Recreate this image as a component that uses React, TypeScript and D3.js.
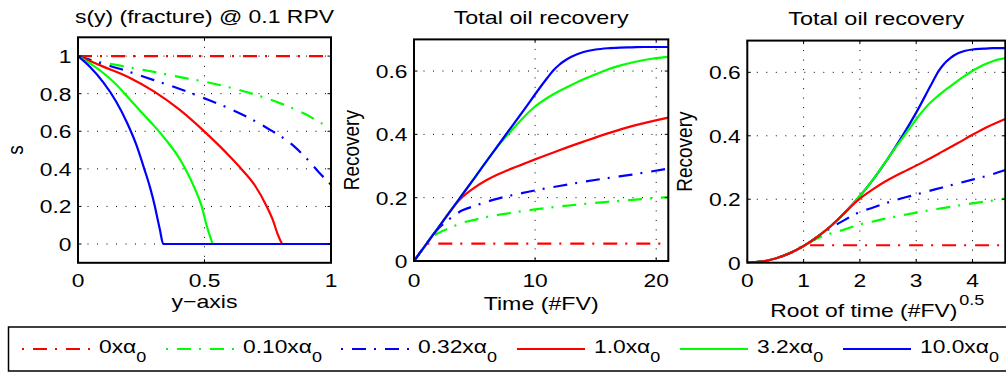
import React from "react";
import * as d3 from "d3";

// ---------- DATA ----------
// Panel 1: s(y) profiles in fracture at 0.1 RPV ([y, s])
const sAlpha0: [number, number][] = [[0, 1], [1, 1]];
const sAlpha010: [number, number][] = [[0, 1], [0.05, 0.98], [0.1, 0.966], [0.2, 0.941], [0.3, 0.916], [0.43, 0.881], [0.5, 0.864], [0.614, 0.828], [0.7, 0.795], [0.81, 0.743], [0.9, 0.69], [0.976, 0.633], [1, 0.618]];
const sAlpha032: [number, number][] = [[0, 1], [0.05, 0.978], [0.1, 0.958], [0.18, 0.926], [0.3, 0.872], [0.4, 0.826], [0.5, 0.775], [0.6, 0.72], [0.667, 0.677], [0.75, 0.615], [0.85, 0.525], [0.9, 0.46], [0.95, 0.385], [1, 0.315]];
const sAlpha10: [number, number][] = [[0, 1], [0.05, 0.972], [0.1, 0.944], [0.2, 0.888], [0.3, 0.812], [0.4, 0.716], [0.5, 0.598], [0.6, 0.466], [0.65, 0.393], [0.7, 0.31], [0.746, 0.2], [0.77, 0.128], [0.79, 0.05], [0.81, 0], [1, 0]];
const sAlpha32: [number, number][] = [[0, 1], [0.047, 0.961], [0.1, 0.91], [0.153, 0.846], [0.2, 0.777], [0.258, 0.69], [0.3, 0.63], [0.35, 0.55], [0.39, 0.478], [0.423, 0.403], [0.46, 0.3], [0.489, 0.2], [0.508, 0.101], [0.522, 0.04], [0.535, 0], [1, 0]];
const sAlpha100: [number, number][] = [[0, 1], [0.047, 0.943], [0.1, 0.86], [0.15, 0.76], [0.192, 0.651], [0.23, 0.53], [0.262, 0.4], [0.285, 0.3], [0.304, 0.2], [0.315, 0.13], [0.324, 0.074], [0.337, 0], [1, 0]];

// Panels 2 & 3: total oil recovery vs time (#FV) ([t, R])
const rAlpha0: [number, number][] = [[0, 0], [0.0625, 0.0033], [0.25, 0.0132], [0.5625, 0.0296], [1, 0.0526], [1.1, 0.055], [21, 0.055]];
const rAlpha010: [number, number][] = [[0, 0], [0.0625, 0.0033], [0.25, 0.0132], [0.5625, 0.0296], [1, 0.0526], [1.3, 0.067], [1.5, 0.075], [2, 0.088], [3, 0.105], [4, 0.121], [5, 0.13], [6, 0.139], [8, 0.152], [10, 0.163], [12, 0.172], [14, 0.18], [16, 0.187], [18, 0.193], [21, 0.202]];
const rAlpha032: [number, number][] = [[0, 0], [0.0625, 0.0033], [0.25, 0.0132], [0.5625, 0.0296], [1, 0.0526], [1.5625, 0.082], [1.8, 0.093], [2, 0.102], [2.5, 0.12], [3, 0.135], [4, 0.16], [5, 0.174], [6, 0.187], [7, 0.198], [8, 0.207], [9, 0.215], [10, 0.223], [12, 0.237], [14, 0.25], [16, 0.262], [18, 0.273], [21, 0.292]];
const rAlpha10: [number, number][] = [[0, 0], [0.0625, 0.0033], [0.25, 0.0132], [0.5625, 0.0296], [1, 0.0526], [1.5625, 0.0822], [2.25, 0.118], [3.0625, 0.161], [3.5, 0.182], [4, 0.202], [5, 0.232], [6, 0.256], [7, 0.275], [8, 0.291], [9, 0.306], [10, 0.321], [12, 0.35], [14, 0.377], [16, 0.403], [18, 0.426], [21, 0.453]];
const rAlpha32: [number, number][] = [[0, 0], [0.0625, 0.0033], [0.25, 0.0132], [0.5625, 0.0296], [1, 0.0526], [1.5625, 0.0822], [2.25, 0.118], [3.0625, 0.161], [4, 0.21], [5.0625, 0.266], [6.25, 0.329], [7, 0.366], [8, 0.41], [9, 0.452], [10, 0.488], [11, 0.515], [12, 0.537], [13, 0.556], [14, 0.574], [15, 0.59], [16, 0.605], [17, 0.617], [18, 0.627], [19, 0.635], [20, 0.641], [21, 0.645]];
const rAlpha100: [number, number][] = [[0, 0], [0.0625, 0.0033], [0.25, 0.0132], [0.5625, 0.0296], [1, 0.0526], [1.5625, 0.0822], [2.25, 0.118], [3.0625, 0.161], [4, 0.21], [5.0625, 0.266], [6.25, 0.329], [7.5625, 0.398], [9, 0.473], [10.5625, 0.556], [11, 0.578], [11.5, 0.602], [12, 0.62], [12.5, 0.634], [13, 0.645], [14, 0.66], [15, 0.668], [16, 0.672], [17, 0.674], [18, 0.675], [19, 0.676], [21, 0.676]];

const legendValues = ["0", "0.10", "0.32", "1.0", "3.2", "10.0"];
const seriesColors = ["#ff0000", "#00ff00", "#0000ff", "#ff0000", "#00ff00", "#0000ff"];
const seriesDashed = [true, true, true, false, false, false];

const p1XTicks = [0, 0.5, 1];
const p1XTickLabels = ["0", "0.5", "1"];
const p1YTicks = [0, 0.2, 0.4, 0.6, 0.8, 1];
const p1YTickLabels = ["0", "0.2", "0.4", "0.6", "0.8", "1"];
const p2XTicks = [0, 10, 20];
const p2XTickLabels = ["0", "10", "20"];
const p3XTicks = [0, 1, 2, 3, 4];
const p3XTickLabels = ["0", "1", "2", "3", "4"];
const recYTicks = [0, 0.2, 0.4, 0.6];
const recYTickLabels = ["0", "0.2", "0.4", "0.6"];

// ---------- STYLE / LAYOUT ----------
const FONT = '"Liberation Sans", Arial, Helvetica, sans-serif';
const SX = 1.2;
const DASHDOT = "14,8,2,9";
const GRID_DASH = "1,8.5";

type Pt = [number, number];
interface Series { data: Pt[]; color: string; dashed: boolean; }

function Txt(props: { x: number; y: number; anchor?: string; size?: number; rotate?: boolean; children: React.ReactNode }) {
  const { x, y, anchor = "start", size = 19, rotate = false, children } = props;
  const tf = rotate
    ? `translate(${x},${y}) rotate(-90) scale(1,${SX})`
    : `translate(${x},${y}) scale(${SX},1)`;
  return (
    <text transform={tf} textAnchor={anchor as any} fontSize={size} fontFamily={FONT} fill="#000">
      {children}
    </text>
  );
}

// Text stretched to a fixed width (centered)
function WTxt(props: { x: number; y: number; width: number; size?: number; children: React.ReactNode }) {
  const { x, y, width, size = 19, children } = props;
  return (
    <text x={x - width / 2} y={y} textLength={width} lengthAdjust="spacingAndGlyphs"
      fontSize={size} fontFamily={FONT} fill="#000">
      {children}
    </text>
  );
}

interface PanelProps {
  id: string;
  left: number; right: number; top: number; bottom: number;
  xDomain: [number, number]; yDomain: [number, number];
  xTicks: number[]; xTickLabels: string[];
  yTicks: number[]; yTickLabels: string[];
  title: string; titleY: number; titleW: number;
  xlabel: string; xlabelY: number; xlabelW: number;
  xlabelSup?: string;
  ylabel: string;
  series: Series[];
  xOf: (v: number) => number;
}

function Panel(p: PanelProps) {
  const x = d3.scaleLinear().domain(p.xDomain).range([p.left, p.right]);
  const y = d3.scaleLinear().domain(p.yDomain).range([p.bottom, p.top]);
  const line = d3.line<Pt>().x(d => x(p.xOf(d[0]))).y(d => y(d[1])).curve(d3.curveMonotoneX);
  const tl = 3.5;
  const cx = (p.left + p.right) / 2;
  const cy = (p.top + p.bottom) / 2;
  const supW = p.xlabelSup ? 25 : 0;
  const xlCenter = cx - supW / 2;
  return (
    <g>
      <defs>
        <clipPath id={p.id}>
          <rect x={p.left} y={p.top} width={p.right - p.left} height={p.bottom - p.top} />
        </clipPath>
      </defs>
      {p.xTicks.map((t, i) => (
        <line key={"gx" + i} x1={x(t)} x2={x(t)} y1={p.top} y2={p.bottom} stroke="#000" strokeWidth={1} strokeDasharray={GRID_DASH} />
      ))}
      {p.yTicks.map((t, i) => (
        <line key={"gy" + i} x1={p.left} x2={p.right} y1={y(t)} y2={y(t)} stroke="#000" strokeWidth={1} strokeDasharray={GRID_DASH} />
      ))}
      <g clipPath={`url(#${p.id})`}>
        {p.series.map((s, i) => (
          <path key={"s" + i} d={line(s.data) || ""} fill="none" stroke={s.color} strokeWidth={2.2}
            strokeDasharray={s.dashed ? DASHDOT : undefined} />
        ))}
      </g>
      {p.xTicks.map((t, i) => (
        <g key={"tx" + i}>
          <line x1={x(t)} x2={x(t)} y1={p.bottom} y2={p.bottom - tl} stroke="#000" strokeWidth={1} />
          <line x1={x(t)} x2={x(t)} y1={p.top} y2={p.top + tl} stroke="#000" strokeWidth={1} />
          <Txt x={x(t)} y={287} anchor="middle">{p.xTickLabels[i]}</Txt>
        </g>
      ))}
      {p.yTicks.map((t, i) => (
        <g key={"ty" + i}>
          <line x1={p.left} x2={p.left + tl} y1={y(t)} y2={y(t)} stroke="#000" strokeWidth={1} />
          <line x1={p.right} x2={p.right - tl} y1={y(t)} y2={y(t)} stroke="#000" strokeWidth={1} />
          <Txt x={p.left - 6.5} y={y(t) + 7} anchor="end">{p.yTickLabels[i]}</Txt>
        </g>
      ))}
      <rect x={p.left} y={p.top} width={p.right - p.left} height={p.bottom - p.top} fill="none" stroke="#000" strokeWidth={2} />
      <WTxt x={cx} y={p.titleY} width={p.titleW}>{p.title}</WTxt>
      <WTxt x={xlCenter} y={p.xlabelY} width={p.xlabelW}>{p.xlabel}</WTxt>
      {p.xlabelSup && (
        <Txt x={xlCenter + p.xlabelW / 2 + 2} y={p.xlabelY - 11.5} size={15}>{p.xlabelSup}</Txt>
      )}
      <Txt x={p.left - 55} y={cy} anchor="middle" rotate>{p.ylabel}</Txt>
    </g>
  );
}

const LEGEND_LINE_X = [22, 166, 341, 517, 680, 843];
const LEGEND_LINE_W = 68;

export default function App() {
  const sSeries: Series[] = [sAlpha0, sAlpha010, sAlpha032, sAlpha10, sAlpha32, sAlpha100].map((d, i) => ({
    data: d, color: seriesColors[i], dashed: seriesDashed[i],
  }));
  const rData = [rAlpha0, rAlpha010, rAlpha032, rAlpha10, rAlpha32, rAlpha100];
  const rSeries: Series[] = rData.map((d, i) => ({ data: d, color: seriesColors[i], dashed: seriesDashed[i] }));
  const rSeries3: Series[] = [rSeries[0], rSeries[1], rSeries[2], rSeries[5], rSeries[4], rSeries[3]];

  return (
    <svg width={1006} height={372} style={{ position: "absolute", left: 0, top: 0, background: "#fff" }}>
      <rect x={0} y={0} width={1006} height={372} fill="#fff" />
      <Panel id="c1" left={78} right={331} top={37.3} bottom={262.8}
        xDomain={[0, 1]} yDomain={[-0.1, 1.1]}
        xTicks={p1XTicks} xTickLabels={p1XTickLabels} yTicks={p1YTicks} yTickLabels={p1YTickLabels}
        title="s(y) (fracture) @ 0.1 RPV" titleY={22.5} titleW={259}
        xlabel="y−axis" xlabelY={308} xlabelW={66} ylabel="s"
        series={sSeries} xOf={v => v} />
      <Panel id="c2" left={414} right={668.3} top={39.4} bottom={261}
        xDomain={[0, 21]} yDomain={[0, 0.7]}
        xTicks={p2XTicks} xTickLabels={p2XTickLabels} yTicks={recYTicks} yTickLabels={recYTickLabels}
        title="Total oil recovery" titleY={24} titleW={175}
        xlabel="Time (#FV)" xlabelY={309.5} xlabelW={115} ylabel="Recovery"
        series={rSeries} xOf={v => v} />
      <Panel id="c3" left={747.3} right={1005.3} top={40.6} bottom={262.7}
        xDomain={[0, Math.sqrt(21)]} yDomain={[0, 0.7]}
        xTicks={p3XTicks} xTickLabels={p3XTickLabels} yTicks={recYTicks} yTickLabels={recYTickLabels}
        title="Total oil recovery" titleY={25} titleW={176}
        xlabel="Root of time (#FV)" xlabelY={316.5} xlabelW={187} xlabelSup="0.5" ylabel="Recovery"
        series={rSeries3} xOf={v => Math.sqrt(v)} />
      <rect x={8.5} y={327} width={1010} height={44} fill="#fff" stroke="#000" strokeWidth={1.5} />
      {legendValues.map((v, i) => (
        <g key={"lg" + i}>
          <line x1={LEGEND_LINE_X[i]} x2={LEGEND_LINE_X[i] + LEGEND_LINE_W} y1={349} y2={349}
            stroke={seriesColors[i]} strokeWidth={2}
            strokeDasharray={seriesDashed[i] ? "2,9,14,8" : undefined} />
          <Txt x={LEGEND_LINE_X[i] + LEGEND_LINE_W + 9} y={353}>
            <tspan>{v}xα</tspan>
            <tspan dy={8.5} fontSize={15}>0</tspan>
          </Txt>
        </g>
      ))}
    </svg>
  );
}
